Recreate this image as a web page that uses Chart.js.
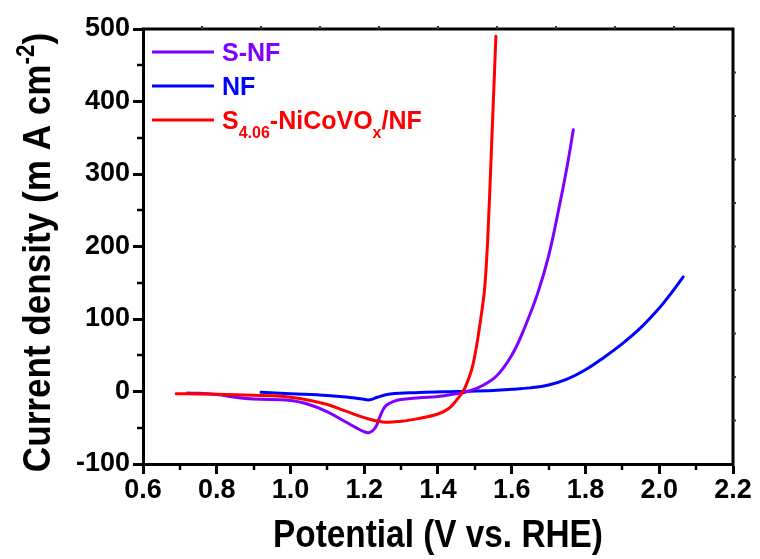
<!DOCTYPE html>
<html>
<head>
<meta charset="utf-8">
<script src="https://cdn.jsdelivr.net/npm/chart.js@4.4.1/dist/chart.umd.min.js"></script>
<style>
  html, body { margin: 0; padding: 0; background: #fff; }
  #wrap { width: 760px; height: 559px; }
</style>
</head>
<body>
<div id="wrap"><canvas id="lsv"></canvas></div>
<script>
// LSV curves, potential in V vs. RHE, current density in mA cm-2
const snfV = [0.72, 0.80, 0.85, 0.90, 1.00, 1.05, 1.10, 1.15, 1.18, 1.20, 1.215, 1.23, 1.24, 1.25, 1.26, 1.28, 1.30, 1.35, 1.40, 1.45, 1.48, 1.52, 1.56, 1.60, 1.63, 1.67, 1.70, 1.73, 1.75, 1.767];
const snfJ = [-2, -4, -8, -10.5, -12.5, -18, -28, -42, -50.5, -55.5, -56.5, -50, -38, -26, -19, -13.5, -11, -8.5, -7, -3, 0, 8, 22, 50, 82, 135, 187, 258, 310, 361];

const nfV = [0.92, 1.00, 1.10, 1.15, 1.19, 1.215, 1.235, 1.27, 1.35, 1.45, 1.55, 1.60, 1.65, 1.70, 1.75, 1.80, 1.85, 1.90, 1.95, 2.00, 2.03, 2.065];
const nfJ = [-1, -3, -5.5, -7.5, -10, -11.5, -8, -3.5, -1.5, 0, 1.5, 3, 5, 9, 17, 30, 47, 66, 88, 115, 134, 158];

const nicoV = [0.69, 0.75, 0.85, 0.95, 1.00, 1.05, 1.10, 1.15, 1.20, 1.25, 1.30, 1.35, 1.40, 1.43, 1.45, 1.47, 1.49, 1.50, 1.51, 1.52, 1.527, 1.535, 1.545, 1.557];
const nicoJ = [-3, -3.5, -4.5, -6, -8, -12, -18, -27, -36, -42, -41, -37, -31, -23, -12, 2, 28, 50, 80, 115, 145, 212, 335, 490];

const seriesNames = ['S-NF', 'NF', 'S_{4.06}-NiCoVO_{x}/NF'];
const seriesColors = ['#8000ff', '#0000ff', '#ff0000'];

const xTitle = 'Potential (V vs. RHE)';
const yTitle = 'Current density (m A cm^{-2})';

const xMin = 0.6, xMax = 2.2, xStep = 0.2;
const yMin = -100, yMax = 500, yStep = 100;

const FONT = '"Liberation Sans", Arial, sans-serif';

function toPoints(xs, ys) {
  return xs.map((v, i) => ({ x: v, y: ys[i] }));
}

// split "a_{b}c^{d}" into plain / sub / sup runs
function parseRich(str) {
  const parts = [];
  const re = /([_^])\{([^}]*)\}/g;
  let last = 0, m;
  while ((m = re.exec(str))) {
    if (m.index > last) parts.push({ t: str.slice(last, m.index), k: '' });
    parts.push({ t: m[2], k: m[1] });
    last = re.lastIndex;
  }
  if (last < str.length) parts.push({ t: str.slice(last), k: '' });
  return parts;
}

function richWidth(ctx, parts, size, sx) {
  let w = 0;
  parts.forEach(p => {
    ctx.font = `bold ${p.k ? size * 0.64 : size}px ${FONT}`;
    w += ctx.measureText(p.t).width * sx;
  });
  return w;
}

function drawRich(ctx, parts, x, y, size, sx) {
  let cx = x;
  parts.forEach(p => {
    const s = p.k ? size * 0.64 : size;
    const dy = p.k === '_' ? size * 0.36 : p.k === '^' ? -size * 0.42 : 0;
    ctx.font = `bold ${s}px ${FONT}`;
    ctx.save();
    ctx.translate(cx, y + dy);
    ctx.scale(sx, 1);
    ctx.fillText(p.t, 0, 0);
    ctx.restore();
    cx += ctx.measureText(p.t).width * sx;
  });
}

// frame, minor ticks, axis titles and legend
const decorations = {
  id: 'decorations',
  afterDraw(chart) {
    const { ctx, chartArea: a, scales } = chart;
    const xs = scales.x, ys = scales.y;
    ctx.save();
    ctx.strokeStyle = '#000';
    ctx.fillStyle = '#000';
    ctx.lineWidth = 3;
    ctx.lineCap = 'square';

    // top and right edges
    ctx.beginPath();
    ctx.moveTo(a.left, a.top);
    ctx.lineTo(a.right, a.top);
    ctx.lineTo(a.right, a.bottom);
    ctx.stroke();

    // minor ticks
    ctx.lineWidth = 2.5;
    ctx.lineCap = 'butt';
    ctx.beginPath();
    for (let v = xMin + xStep / 2; v < xMax; v += xStep) {
      const px = Math.round(xs.getPixelForValue(v));
      ctx.moveTo(px, a.bottom);
      ctx.lineTo(px, a.bottom + 6);
    }
    for (let v = yMin + yStep / 2; v < yMax; v += yStep) {
      const py = Math.round(ys.getPixelForValue(v));
      ctx.moveTo(a.left, py);
      ctx.lineTo(a.left - 6, py);
    }
    ctx.stroke();

    // small ticks on the top and right edges
    ctx.lineWidth = 2;
    ctx.strokeStyle = '#333';
    ctx.beginPath();
    for (let k = 1; k < 10; k++) {
      const px = a.left + (a.right - a.left) * k / 10;
      ctx.moveTo(px, a.top);
      ctx.lineTo(px, a.top - 3);
      const py = a.top + (a.bottom - a.top) * k / 10;
      ctx.moveTo(a.right, py);
      ctx.lineTo(a.right + 3, py);
    }
    ctx.stroke();

    // axis titles
    ctx.fillStyle = '#000';
    ctx.textBaseline = 'alphabetic';
    ctx.textAlign = 'left';
    const xp = parseRich(xTitle);
    const xw = richWidth(ctx, xp, 39, 0.855);
    drawRich(ctx, xp, (a.left + a.right) / 2 - xw / 2, 547, 39, 0.855);

    const yp = parseRich(yTitle);
    const yw = richWidth(ctx, yp, 39, 0.9);
    ctx.save();
    ctx.translate(50, (a.top + a.bottom) / 2 + 6);
    ctx.rotate(-Math.PI / 2);
    drawRich(ctx, yp, -yw / 2, 0, 39, 0.9);
    ctx.restore();

    // legend
    chart.data.datasets.forEach((ds, i) => {
      const y = a.top + 23 + i * 34;
      ctx.strokeStyle = ds.borderColor;
      ctx.lineWidth = 3;
      ctx.beginPath();
      ctx.moveTo(a.left + 9, y);
      ctx.lineTo(a.left + 71, y);
      ctx.stroke();
      ctx.fillStyle = ds.borderColor;
      drawRich(ctx, parseRich(seriesNames[i]), a.left + 79, y + 9, 25, 1);
    });
    ctx.restore();
  }
};

const tickFont = { family: FONT, size: 27, weight: 'bold' };

new Chart(document.getElementById('lsv'), {
  type: 'line',
  data: {
    datasets: [
      { label: seriesNames[0], data: toPoints(snfV, snfJ), borderColor: seriesColors[0], order: 1 },
      { label: seriesNames[1], data: toPoints(nfV, nfJ), borderColor: seriesColors[1], order: 2 },
      { label: seriesNames[2], data: toPoints(nicoV, nicoJ), borderColor: seriesColors[2], order: 0 }
    ]
  },
  options: {
    responsive: true,
    maintainAspectRatio: false,
    animation: false,
    layout: { padding: { top: 29, right: 27, left: 0, bottom: 0 } },
    elements: {
      point: { radius: 0 },
      line: { borderWidth: 3, tension: 0.4, fill: false, borderJoinStyle: 'round', borderCapStyle: 'round' }
    },
    plugins: {
      legend: { display: false },
      tooltip: { enabled: false }
    },
    scales: {
      x: {
        type: 'linear',
        min: xMin,
        max: xMax,
        afterFit(scale) { scale.height = 95; },
        border: { display: true, color: '#000', width: 3 },
        grid: { drawOnChartArea: false, drawTicks: true, tickLength: 10, tickWidth: 3, tickColor: '#000' },
        ticks: {
          stepSize: xStep,
          color: '#000',
          font: tickFont,
          padding: 0,
          maxRotation: 0,
          callback: v => v.toFixed(1)
        }
      },
      y: {
        type: 'linear',
        min: yMin,
        max: yMax,
        afterFit(scale) { scale.width = 143; },
        border: { display: true, color: '#000', width: 3 },
        grid: { drawOnChartArea: false, drawTicks: true, tickLength: 10, tickWidth: 3, tickColor: '#000' },
        ticks: {
          stepSize: yStep,
          color: '#000',
          font: tickFont,
          padding: 3
        }
      }
    }
  },
  plugins: [decorations]
});
</script>
</body>
</html>
